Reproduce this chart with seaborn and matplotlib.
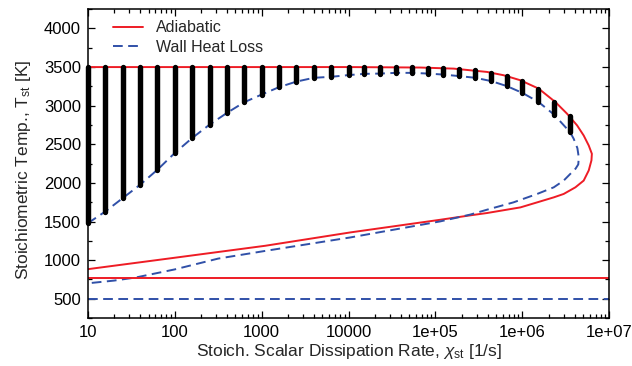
import matplotlib
matplotlib.use("Agg")
import matplotlib.pyplot as plt
import numpy as np
import pandas as pd
import seaborn as sns
from matplotlib.ticker import FixedLocator, FixedFormatter, LogLocator, NullFormatter, MultipleLocator

# ---------------- data ----------------
col_chi = [10, 15.85, 25.12, 39.81, 63.10, 100, 158.5, 251.2, 398.1, 631.0, 1000,
           1585, 2512, 3981, 6310, 1.0e4, 1.52e4, 2.31e4, 3.53e4, 5.41e4, 8.19e4,
           1.23e5, 1.88e5, 2.88e5, 4.40e5, 6.65e5, 1.0e6, 1.53e6, 2.32e6, 3.55e6]
col_top = [3500] * 20 + [3492, 3487, 3475, 3458, 3428, 3390, 3320, 3222, 3050, 2860]
col_bottom = [1478, 1629, 1802, 1975, 2170, 2387, 2581, 2754, 2906, 3045, 3144, 3240,
              3312, 3361, 3374, 3396, 3412, 3416, 3425, 3425, 3416, 3403, 3383, 3361,
              3318, 3253, 3166, 3049, 2884, 2655]

adiabatic_chi = [10, 1e4, 6.68e4, 1.62e5, 3.92e5, 6.1e5, 9.5e5, 1.54e6, 2.40e6, 3.27e6,
                 4.27e6, 5.08e6, 5.81e6, 6.31e6, 6.24e6, 5.81e6, 5.08e6, 4.08e6, 2.99e6,
                 2.30e6, 1.48e6, 9.5e5, 3.92e5, 2.52e5, 1.14e5, 1.05e4, 1.1e3, 100, 10]
adiabatic_T = [3500, 3500, 3494, 3480, 3437, 3394, 3329, 3221, 3047, 2896, 2744, 2614,
               2484, 2377, 2292, 2162, 2030, 1943, 1857, 1813, 1748, 1683, 1610, 1580,
               1523, 1359, 1186, 1031, 883]

heatloss_return_chi = [3.9e6, 4.3e6, 4.46e6, 4.4e6, 4.1e6, 3.72e6, 2.99e6, 2.30e6, 1.48e6,
                       7.9e5, 3.92e5, 2.52e5, 1.14e5, 1.05e4, 1.12e3, 316, 100, 35.5, 20, 10]
heatloss_return_T = [2571, 2450, 2330, 2240, 2185, 2138, 2030, 1943, 1857, 1748, 1653,
                     1590, 1502, 1294, 1121, 1020, 880, 775, 735, 700]

flat_chi = [10, 1e7]
adiabatic_flat_T = [770, 770]
heatloss_flat_T = [500, 500]

xtick_vals = [10, 100, 1000, 1e4, 1e5, 1e6, 1e7]
xtick_labels = ["10", "100", "1000", "10000", "1e+05", "1e+06", "1e+07"]
ytick_vals = [500, 1000, 1500, 2000, 2500, 3000, 3500, 4000]
ytick_labels = ["500", "1000", "1500", "2000", "2500", "3000", "3500", "4000"]

# ---------------- style ----------------
sns.set_style("ticks")
plt.rcParams["font.family"] = ["Liberation Sans", "DejaVu Sans"]
plt.rcParams["mathtext.fontset"] = "custom"
plt.rcParams["mathtext.rm"] = "Liberation Sans"
plt.rcParams["mathtext.it"] = "Liberation Sans:italic"

RED = "#EE1C25"
BLUE = "#3050A8"

fig, ax = plt.subplots(figsize=(6.32, 3.66), dpi=100)
fig.subplots_adjust(left=0.139, right=0.964, top=0.975, bottom=0.131)

# curves
adi = pd.DataFrame({"chi": adiabatic_chi, "T": adiabatic_T})
sns.lineplot(data=adi, x="chi", y="T", sort=False, estimator=None, color=RED,
             lw=1.4, ax=ax, label="Adiabatic", zorder=2)
hl = pd.DataFrame({"chi": col_chi + heatloss_return_chi,
                   "T": col_bottom + heatloss_return_T})
sns.lineplot(data=hl, x="chi", y="T", sort=False, estimator=None, color=BLUE,
             lw=1.4, ax=ax, label="Wall Heat Loss", zorder=2)
ax.lines[-1].set_dashes((5.0, 2.8))

sns.lineplot(x=flat_chi, y=adiabatic_flat_T, sort=False, estimator=None, color=RED,
             lw=1.4, ax=ax, zorder=2)
sns.lineplot(x=flat_chi, y=heatloss_flat_T, sort=False, estimator=None, color=BLUE,
             lw=1.4, ax=ax, zorder=2)
ax.lines[-1].set_dashes((5.0, 2.8))

# black columns of solutions
n = len(col_chi)
cols = pd.DataFrame({"chi": col_chi + col_chi,
                     "T": col_bottom + col_top,
                     "col": list(range(n)) + list(range(n))})
sns.lineplot(data=cols, x="chi", y="T", units="col", estimator=None, sort=False,
             color="black", lw=3.9, solid_capstyle="round", ax=ax, zorder=3,
             legend=False, clip_on=False)

# axes
ax.set_xscale("log")
ax.set_xlim(10, 1e7)
ax.set_ylim(250, 4250)
ax.xaxis.set_major_locator(FixedLocator(xtick_vals))
ax.xaxis.set_major_formatter(FixedFormatter(xtick_labels))
ax.xaxis.set_minor_locator(LogLocator(base=10, subs=np.arange(2, 10), numticks=20))
ax.xaxis.set_minor_formatter(NullFormatter())
ax.yaxis.set_major_locator(FixedLocator(ytick_vals))
ax.yaxis.set_major_formatter(FixedFormatter(ytick_labels))
ax.yaxis.set_minor_locator(MultipleLocator(250))

ax.tick_params(which="both", direction="in", top=True, right=True, width=0.9,
               labelsize=12, colors="black")
ax.tick_params(which="major", length=5, pad=5)
ax.tick_params(which="minor", length=2.8)
for s in ax.spines.values():
    s.set_linewidth(1.1)
    s.set_color("black")

ax.set_xlabel(r"Stoich. Scalar Dissipation Rate, $\chi_{\rm st}$ [1/s]", fontsize=12.5)
ax.set_ylabel(r"Stoichiometric Temp., T$_{\rm st}$ [K]", fontsize=12.5)
ax.xaxis.set_label_coords(0.5, -0.078)
ax.yaxis.set_label_coords(-0.106, 0.48)

leg = ax.legend(loc="upper left", bbox_to_anchor=(0.036, 0.985), borderaxespad=0,
                frameon=False, fontsize=11.5, handlelength=1.9, labelspacing=0.3,
                handletextpad=0.8)

fig.savefig("out.png", dpi=100)
